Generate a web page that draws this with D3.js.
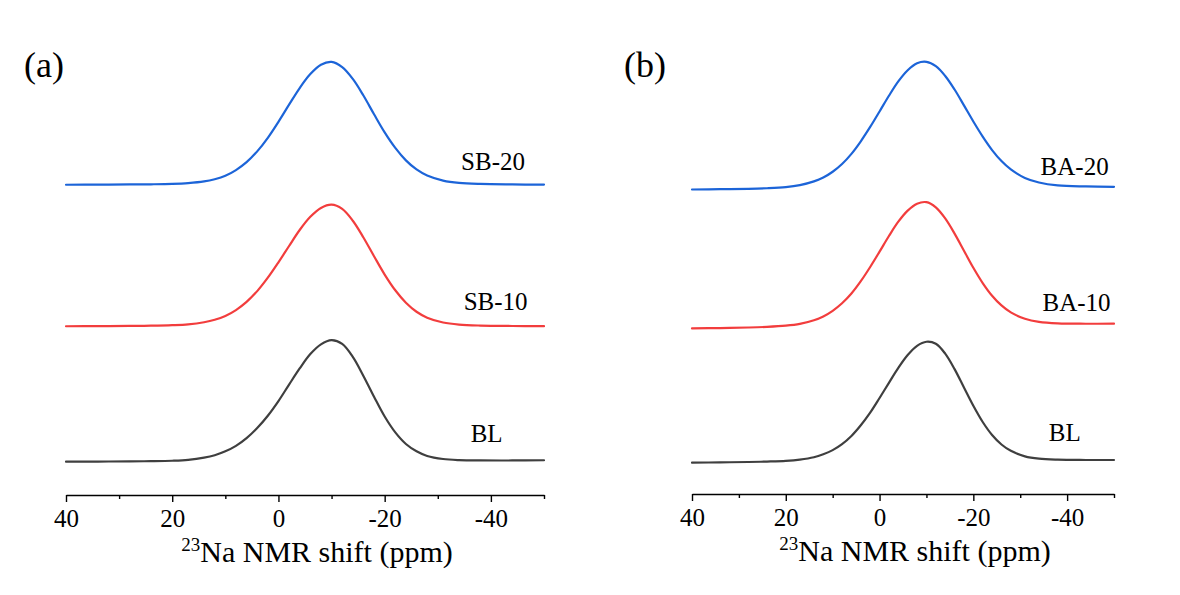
<!DOCTYPE html>
<html>
<head>
<meta charset="utf-8">
<script src="https://cdn.jsdelivr.net/npm/d3@7/dist/d3.min.js"></script>
<style>
  html, body { margin: 0; padding: 0; background: #ffffff; }
  svg { display: block; }
  text { font-family: "Liberation Serif", "Times New Roman", serif; fill: #000; }
</style>
</head>
<body>
<svg id="chart" width="1180" height="595"></svg>
<script>
// ---------- data ----------
const ppmGrid = [40, 34, 28, 24, 20, 17, 14, 12, 10, 8, 6, 4, 2, 0, -2, -4, -6, -8, -10, -12, -14, -16, -18, -20, -22, -24, -26, -28, -31, -34, -38, -44, -50];

// panel (a) – normalised intensities
const BL_a = [0.0032, 0.0042, 0.0055, 0.0072, 0.0108, 0.018, 0.036, 0.056, 0.088, 0.133, 0.196, 0.279, 0.38, 0.50, 0.635, 0.767, 0.885, 0.965, 0.9995, 0.969, 0.862, 0.706, 0.535, 0.373, 0.243, 0.148, 0.088, 0.050, 0.025, 0.016, 0.013, 0.013, 0.015];
const SB10 = [0.0033, 0.0044, 0.0058, 0.0078, 0.012, 0.0188, 0.036, 0.056, 0.0878, 0.136, 0.203, 0.291, 0.401, 0.527, 0.661, 0.792, 0.900, 0.973, 1.0, 0.965, 0.868, 0.731, 0.577, 0.427, 0.298, 0.196, 0.122, 0.0735, 0.034, 0.017, 0.009, 0.0053, 0.004];
const SB20 = [0.0031, 0.0041, 0.0053, 0.0068, 0.010, 0.0163, 0.030, 0.048, 0.0757, 0.122, 0.186, 0.274, 0.384, 0.514, 0.653, 0.788, 0.901, 0.977, 1.0, 0.958, 0.862, 0.727, 0.575, 0.428, 0.302, 0.201, 0.127, 0.078, 0.037, 0.018, 0.0093, 0.0055, 0.0041];

// panel (b) – normalised intensities
const BL_b = [-0.0134, -0.011, -0.008, -0.0043, 0.0016, 0.0121, 0.032, 0.057, 0.091, 0.141, 0.209, 0.298, 0.403, 0.525, 0.651, 0.775, 0.882, 0.959, 0.993, 0.976, 0.894, 0.765, 0.612, 0.460, 0.325, 0.217, 0.138, 0.085, 0.039, 0.0195, 0.0115, 0.009, 0.0087];
const BA10 = [-0.008, -0.0045, -0.0002, 0.0048, 0.0143, 0.0287, 0.058, 0.0886, 0.134, 0.1945, 0.273, 0.372, 0.486, 0.609, 0.735, 0.850, 0.939, 0.995, 1.007, 0.965, 0.876, 0.754, 0.617, 0.480, 0.357, 0.255, 0.177, 0.121, 0.070, 0.045, 0.033, 0.030, 0.0306];
const BA20 = [-0.004, -0.0016, 0.0016, 0.006, 0.0149, 0.0305, 0.060, 0.0905, 0.136, 0.197, 0.277, 0.376, 0.489, 0.611, 0.735, 0.848, 0.936, 0.991, 1.002, 0.968, 0.891, 0.784, 0.659, 0.532, 0.413, 0.307, 0.220, 0.154, 0.087, 0.051, 0.028, 0.020, 0.0175];

const seriesNamesA = ["BL", "SB-10", "SB-20"];
const seriesNamesB = ["BL", "BA-10", "BA-20"];
const offsetsA = [0, 1.11, 2.27];
const offsetsB = [0, 1.095, 2.23];
const ampsA = [1.0, 1.0, 1.01];
const ampsB = [0.985, 1.02, 1.04];
const colors = ["#3f3f3f", "#f23d3d", "#1c64d8"];

const majorTicks = [40, 20, 0, -20, -40];
const minorTicks = [30, 10, -10, -30, -50];
const panelLabels = ["(a)", "(b)"];
const axisTitleMain = "Na NMR shift (ppm)";
const axisTitleSup = "23";

// ---------- drawing ----------
const svg = d3.select("#chart");
svg.append("rect").attr("width", 1180).attr("height", 595).attr("fill", "#ffffff");

const panels = [
  { x0: 66, x1: 544, axisY: 495, names: seriesNamesA, data: [BL_a, SB10, SB20], offsets: offsetsA, amps: ampsA,
    labelPos: [[-39.2, 20], [-40.9, 16.5], [-40.4, 15]], label: panelLabels[0], labelX: 24 },
  { x0: 692, x1: 1114, axisY: 494, names: seriesNamesB, data: [BL_b, BA10, BA20], offsets: offsetsB, amps: ampsB,
    labelPos: [[-39.5, 20], [-42.0, 16], [-41.6, 14]], label: panelLabels[1], labelX: 624 }
];

panels.forEach(p => {
  const x = d3.scaleLinear().domain([40, -50]).range([p.x0, p.x1]);
  const unit = 122;
  const y = d3.scaleLinear().domain([-0.27, 3.5]).range([p.axisY, p.axisY - 3.77 * unit]);
  const g = svg.append("g");

  const line = d3.line()
    .x(d => x(d[0]))
    .y(d => y(d[1]))
    .curve(d3.curveCatmullRom.alpha(0.5));

  p.data.forEach((vals, i) => {
    const pts = ppmGrid.map((ppm, k) => [ppm, p.offsets[i] + p.amps[i] * vals[k]]);
    g.append("path")
      .attr("d", line(pts))
      .attr("fill", "none")
      .attr("stroke", colors[i])
      .attr("stroke-width", 2.2)
      .attr("stroke-linejoin", "round")
      .attr("stroke-linecap", "round");

    const lp = p.labelPos[i];
    g.append("text")
      .attr("x", x(lp[0]))
      .attr("y", y(p.offsets[i]) - lp[1])
      .attr("text-anchor", "middle")
      .attr("font-size", 25)
      .text(p.names[i]);
  });

  // axis
  const axMajor = d3.axisBottom(x).tickValues(majorTicks).tickSize(7).tickSizeOuter(0).tickFormat(d3.format("d"));
  const axMinor = d3.axisBottom(x).tickValues(minorTicks).tickSize(4).tickSizeOuter(0).tickFormat("");

  const gMinor = g.append("g").attr("transform", `translate(0,${p.axisY})`).call(axMinor);
  gMinor.select(".domain").remove();
  gMinor.selectAll("line").attr("stroke", "#000").attr("stroke-width", 1.4);

  const gMajor = g.append("g").attr("transform", `translate(0,${p.axisY})`).call(axMajor);
  gMajor.attr("font-family", null).attr("font-size", null);
  gMajor.select(".domain").attr("stroke", "#000").attr("stroke-width", 1.6);
  gMajor.selectAll("line").attr("stroke", "#000").attr("stroke-width", 1.4);
  gMajor.selectAll("text")
    .attr("dy", null)
    .attr("y", 32)
    .style("font-size", "25px")
    .style("font-family", "'Liberation Serif', 'Times New Roman', serif")
    .attr("fill", "#000")
    .text(d => String(d));

  // axis title
  const t = g.append("text")
    .attr("x", (p.x0 + p.x1) / 2 + 12)
    .attr("y", p.axisY + 67)
    .attr("text-anchor", "middle")
    .attr("font-size", 30);
  t.append("tspan").attr("font-size", 19).attr("dy", -11).text(axisTitleSup);
  t.append("tspan").attr("dy", 11).text(axisTitleMain);

  // panel label
  g.append("text")
    .attr("x", p.labelX)
    .attr("y", 77)
    .attr("font-size", 36)
    .text(p.label);
});
</script>
</body>
</html>
